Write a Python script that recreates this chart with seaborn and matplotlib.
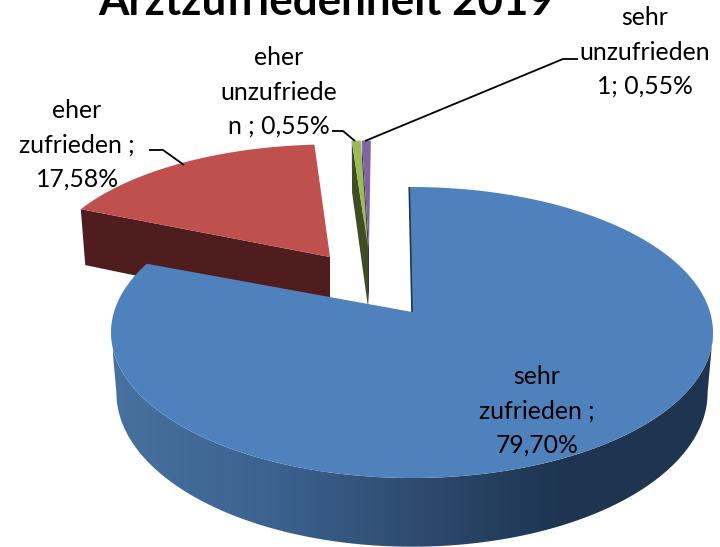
import numpy as np
import seaborn as sns
import matplotlib
matplotlib.use("Agg")
import matplotlib.pyplot as plt
from matplotlib.patches import Polygon

sns.set_theme(style="white")
plt.rcParams["font.family"] = ["Lato", "DejaVu Sans"]

# data, order as in the pie (clockwise from top), rest has no label in the source
names = ["sehr zufrieden", "rest", "eher zufrieden", "eher unzufrieden", "sehr unzufrieden"]
shares = [79.70, 1.62, 17.58, 0.55, 0.55]
labels = ["sehr\nzufrieden ;\n79,70%", "", "eher\nzufrieden ;\n17,58%",
          "eher\nunzufriede\nn ; 0,55%", "sehr\nunzufrieden\n1; 0,55%"]
title = "Arztzufriedenheit 2019"

top_colors = ["#4f81bd", "#ffffff", "#c0504d", "#9bbb59", "#8064a2"]
wall_colors = ["#1f3550", "#ffffff", "#4f1d1d", "#3f4d22", "#3c2c58"]

# look of the fake 3d pie, pixel space
RX, RY, K, DEPTH, SHRINK = 298, 142.6, 0.141, 59, 0.982
START = -0.6
apex = {0: (412, 312), 2: (330, 257), 3: (368, 248), 4: (369, 248)}
scale = {0: (1, 1), 2: (0.96, 0.9), 3: (1, 0.86), 4: (1, 0.86)}
# the perspective of the source shifts slice ends a little (degrees)
nudge = {0: (0, 4.5), 2: (1, 1), 3: (1, 1), 4: (1, 1)}
label_pos = {0: (537, 411), 2: (77, 145), 3: (279, 92), 4: (645, 52)}
leaders = {2: ([149, 163, 184], [150, 150, 165]),
           3: ([332, 343, 355], [131, 131, 141]),
           4: ([578, 563, 365], [59, 59, 141])}


def project(deg, i, low=False):
    t = np.radians(deg)
    u, v = np.sin(t), np.cos(t)
    s = 1 / (1 + K * v)
    ax0, ay0 = apex[i]
    sx, sy = scale[i]
    x = RX * sx * u * s
    y = -RY * sy * v * s
    if low:
        return ax0 + x * SHRINK, ay0 + y + DEPTH * s
    return ax0 + x, ay0 + y


def rim(a, b, i, low=False):
    return project(np.linspace(a, b, 240), i, low=low)


fig = plt.figure(figsize=(7.2, 5.47), dpi=100)
ax = fig.add_axes([0, 0, 1, 1])
ax.axis("off")

edges = np.cumsum([0] + shares) * 3.6 + START

# red first, then purple, green, blue on top
for i in [2, 4, 3]:
    a, b = edges[i] + nudge[i][0], edges[i + 1] + nudge[i][1]
    x0, y0 = apex[i]
    rx, ry = project(a, i)
    lx, ly = project(a, i, low=True)
    ax.fill([rx, x0, x0, lx], [ry, y0, y0 + DEPTH, ly], color=wall_colors[i], lw=0)
    xs, ys = rim(a, b, i)
    ax.fill(np.r_[x0, xs], np.r_[y0, ys], color=top_colors[i], lw=0)

# blue wall between the two silhouette points, gradient along x
end_blue = edges[1] + nudge[0][1]
side = np.degrees(np.arccos(-K))
cmap = sns.blend_palette(["#47719f", "#3d6391", "#2e4c70", "#1e3450", "#1f3550"], 256, as_cmap=True)
xt, yt = rim(side, 360 - side, 0)
xb, yb = rim(side, 360 - side, 0, low=True)
wall = Polygon(np.c_[np.r_[xt, xb[::-1]], np.r_[yt, yb[::-1]]], transform=ax.transData, fc="none", ec="none")
ax.add_patch(wall)
img = ax.imshow(np.linspace(0, 1, 256)[None, :], cmap=cmap, aspect="auto", extent=(113, 714, 560, 200))
img.set_clip_path(wall)

x0, y0 = apex[0]
xs, ys = rim(edges[0], end_blue, 0)
ax.fill(np.r_[x0, xs], np.r_[y0, ys], color=top_colors[0], lw=0)
ex, ey = project(edges[0], 0)
ax.plot([ex, x0], [ey, y0], color=wall_colors[0], lw=1.2, solid_capstyle="butt")

for i, txt in enumerate(labels):
    if txt:
        ax.text(label_pos[i][0], label_pos[i][1], txt, ha="center", va="center",
                fontsize=17.8, color="black", linespacing=1.59)
for i, (lx, ly) in leaders.items():
    ax.plot(lx, ly, color="black", lw=1.3, solid_capstyle="butt")

ax.text(326, 15, title, ha="center", va="baseline", fontsize=31.6, fontweight="bold", color="black")

ax.set_xlim(0, 720)
ax.set_ylim(547, 0)
fig.savefig("out.png", dpi=100)
